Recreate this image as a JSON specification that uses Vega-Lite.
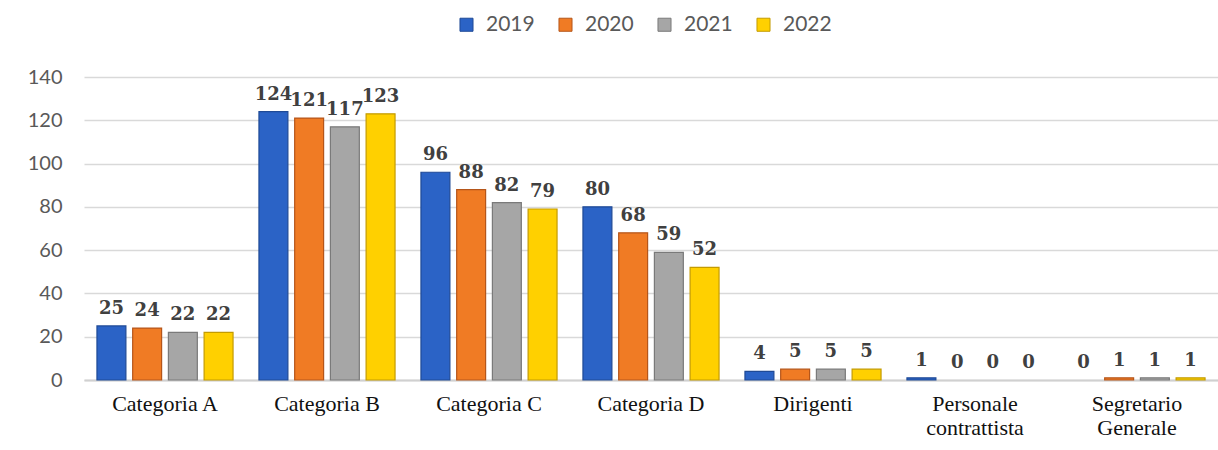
{
  "$schema": "https://vega.github.io/schema/vega-lite/v6.json",
  "width": 1134,
  "height": 303,
  "autosize": {"type": "none"},
  "padding": {"left": 84, "top": 77, "right": 0, "bottom": 70},
  "background": "white",
  "config": {"view": {"stroke": null}},
  "data": {
    "values": [
      {"cat": "Categoria A", "year": "2019", "value": 25},
      {"cat": "Categoria A", "year": "2020", "value": 24},
      {"cat": "Categoria A", "year": "2021", "value": 22},
      {"cat": "Categoria A", "year": "2022", "value": 22},
      {"cat": "Categoria B", "year": "2019", "value": 124},
      {"cat": "Categoria B", "year": "2020", "value": 121},
      {"cat": "Categoria B", "year": "2021", "value": 117},
      {"cat": "Categoria B", "year": "2022", "value": 123},
      {"cat": "Categoria C", "year": "2019", "value": 96},
      {"cat": "Categoria C", "year": "2020", "value": 88},
      {"cat": "Categoria C", "year": "2021", "value": 82},
      {"cat": "Categoria C", "year": "2022", "value": 79},
      {"cat": "Categoria D", "year": "2019", "value": 80},
      {"cat": "Categoria D", "year": "2020", "value": 68},
      {"cat": "Categoria D", "year": "2021", "value": 59},
      {"cat": "Categoria D", "year": "2022", "value": 52},
      {"cat": "Dirigenti", "year": "2019", "value": 4},
      {"cat": "Dirigenti", "year": "2020", "value": 5},
      {"cat": "Dirigenti", "year": "2021", "value": 5},
      {"cat": "Dirigenti", "year": "2022", "value": 5},
      {"cat": "Personale|contrattista", "year": "2019", "value": 1},
      {"cat": "Personale|contrattista", "year": "2020", "value": 0},
      {"cat": "Personale|contrattista", "year": "2021", "value": 0},
      {"cat": "Personale|contrattista", "year": "2022", "value": 0},
      {"cat": "Segretario|Generale", "year": "2019", "value": 0},
      {"cat": "Segretario|Generale", "year": "2020", "value": 1},
      {"cat": "Segretario|Generale", "year": "2021", "value": 1},
      {"cat": "Segretario|Generale", "year": "2022", "value": 1}
    ]
  },
  "encoding": {
    "x": {
      "field": "cat",
      "type": "nominal",
      "sort": ["Categoria A", "Categoria B", "Categoria C", "Categoria D", "Dirigenti", "Personale|contrattista", "Segretario|Generale"],
      "scale": {"paddingInner": 0.16, "paddingOuter": 0.08},
      "axis": {
        "title": null,
        "labelAngle": 0,
        "labelExpr": "split(datum.label, '|')",
        "labelFont": "Liberation Serif",
        "labelFontSize": 22,
        "labelColor": "#111111",
        "labelLineHeight": 24,
        "labelPadding": 13,
        "ticks": false,
        "domain": true,
        "domainColor": "#D0D0D0",
        "domainWidth": 2,
        "grid": false
      }
    },
    "xOffset": {
      "field": "year",
      "type": "nominal",
      "scale": {"paddingInner": 0.19, "paddingOuter": 0}
    },
    "y": {
      "field": "value",
      "type": "quantitative",
      "scale": {"domain": [0, 140], "nice": false},
      "axis": {
        "title": null,
        "values": [0, 20, 40, 60, 80, 100, 120, 140],
        "labelFont": "Lato",
        "labelFontSize": 20,
        "labelColor": "#595959",
        "labelPadding": 22,
        "ticks": false,
        "domain": false,
        "gridColor": "#D9D9D9",
        "gridWidth": 1.5
      }
    }
  },
  "layer": [
    {
      "mark": {"type": "bar", "strokeWidth": 1.2},
      "encoding": {
        "color": {
          "field": "year",
          "type": "nominal",
          "scale": {"domain": ["2019", "2020", "2021", "2022"], "range": ["#2B63C6", "#F07B24", "#A6A6A6", "#FFD000"]},
          "legend": {
            "title": null,
            "orient": "none",
            "legendX": 372,
            "legendY": -63,
            "direction": "horizontal",
            "symbolType": "square",
            "symbolSize": 170,
            "symbolStrokeWidth": 1,
            "labelFont": "Lato",
            "labelFontSize": 21,
            "labelColor": "#595959",
            "labelOffset": 9,
            "columnPadding": 20
          }
        },
        "stroke": {
          "field": "year",
          "type": "nominal",
          "scale": {"domain": ["2019", "2020", "2021", "2022"], "range": ["#1F4A96", "#B5561A", "#7A7A7A", "#C49B00"]},
          "legend": null
        },
        "strokeOpacity": {
          "condition": {"test": "datum.value == 0", "value": 0},
          "value": 1
        }
      }
    },
    {
      "mark": {
        "type": "text",
        "font": "DejaVu Serif",
        "fontWeight": "bold",
        "fontSize": 18,
        "color": "#404040",
        "baseline": "alphabetic",
        "dy": -12
      },
      "encoding": {"text": {"field": "value", "type": "quantitative"}}
    }
  ]
}
